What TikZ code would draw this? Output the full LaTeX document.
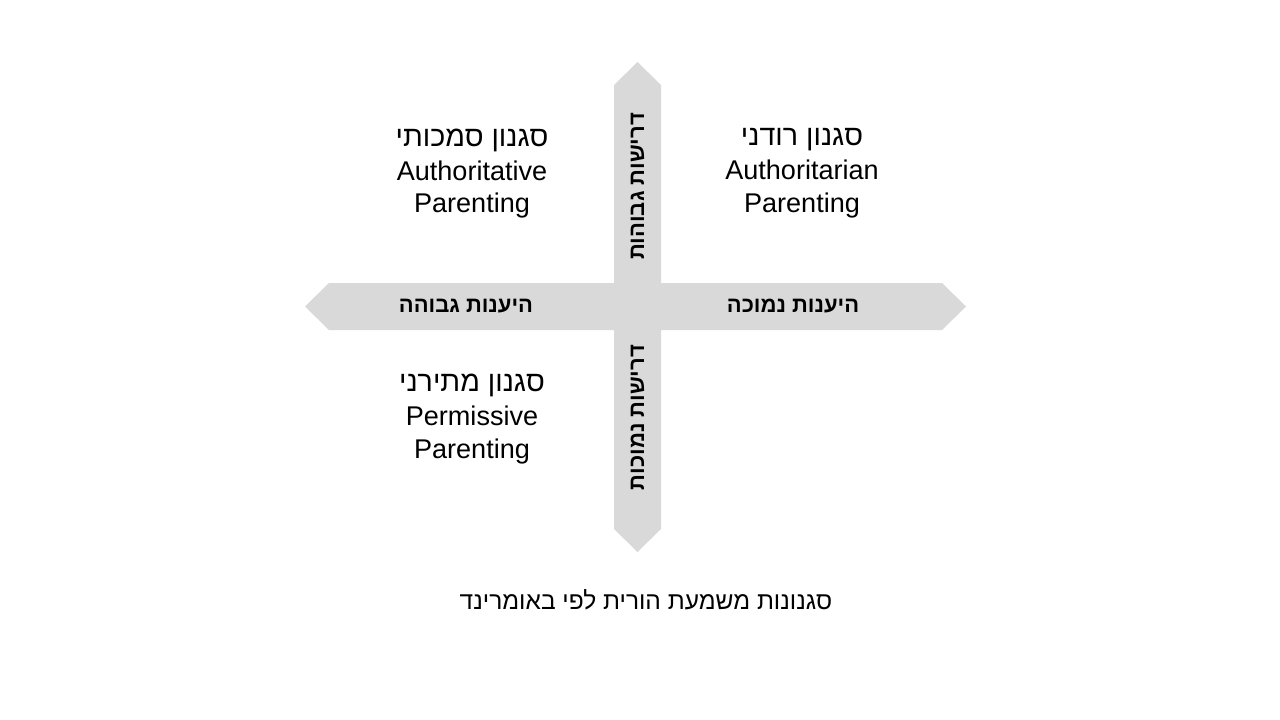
\documentclass[tikz,border=0pt]{standalone}
\usepackage{fontspec}
\setmainfont{Liberation Sans}
\newfontfamily\hebfont[Script=Hebrew]{Liberation Sans}
\TeXXeTstate=1
\newcommand{\heblabel}[1]{{\hebfont\fontsize{21.5}{25}\selectfont\beginR #1\endR}}
\begin{document}
\begin{tikzpicture}[x=0.75pt,y=-0.75pt,
  arrowshape/.style={fill=arrowgray,draw=none},
  quadtext/.style={align=center,font=\fontsize{20.3}{24.5}\selectfont,inner sep=0pt},
  axislabel/.style={font=\hebfont\bfseries\fontsize{16.5}{19}\selectfont,inner sep=0pt},
  captiontext/.style={font=\hebfont\fontsize{18.4}{21}\selectfont,inner sep=0pt}]
\definecolor{arrowgray}{HTML}{D9D9D9}
\useasboundingbox (0,0) rectangle (1280,720);
\fill[white] (0,0) rectangle (1280,720);
% vertical double arrow
\fill[arrowshape] (637.5,62) -- (661,85) -- (661,529) -- (637.5,552) -- (614,529) -- (614,85) -- cycle;
% horizontal double arrow
\fill[arrowshape] (305,306.5) -- (329,283) -- (942,283) -- (966,306.5) -- (942,330) -- (329,330) -- cycle;
% axis labels
\node[axislabel,rotate=90] (dhigh) at (637.5,186.5) {\beginR דרישות גבוהות\endR};
\node[axislabel,rotate=90] (dlow) at (637.5,417.5) {\beginR דרישות נמוכות\endR};
\node[axislabel] (rhigh) at (466,306) {\beginR היענות גבוהה\endR};
\node[axislabel] (rlow) at (793,306) {\beginR היענות נמוכה\endR};
% quadrant labels
\node[quadtext,anchor=north] (auth) at (472,128.5) {\heblabel{סגנון סמכותי}\\[1pt]Authoritative\\ Parenting};
\node[quadtext,anchor=north] (autr) at (802,128.5) {\heblabel{סגנון רודני}\\[1pt]Authoritarian\\ Parenting};
\node[quadtext,anchor=north] (perm) at (472,374) {\heblabel{סגנון מתירני}\\[1pt]Permissive\\Parenting};
% caption
\node[captiontext] (cap) at (646,600) {\beginR סגנונות משמעת הורית לפי באומרינד\endR};
\end{tikzpicture}
\end{document}
